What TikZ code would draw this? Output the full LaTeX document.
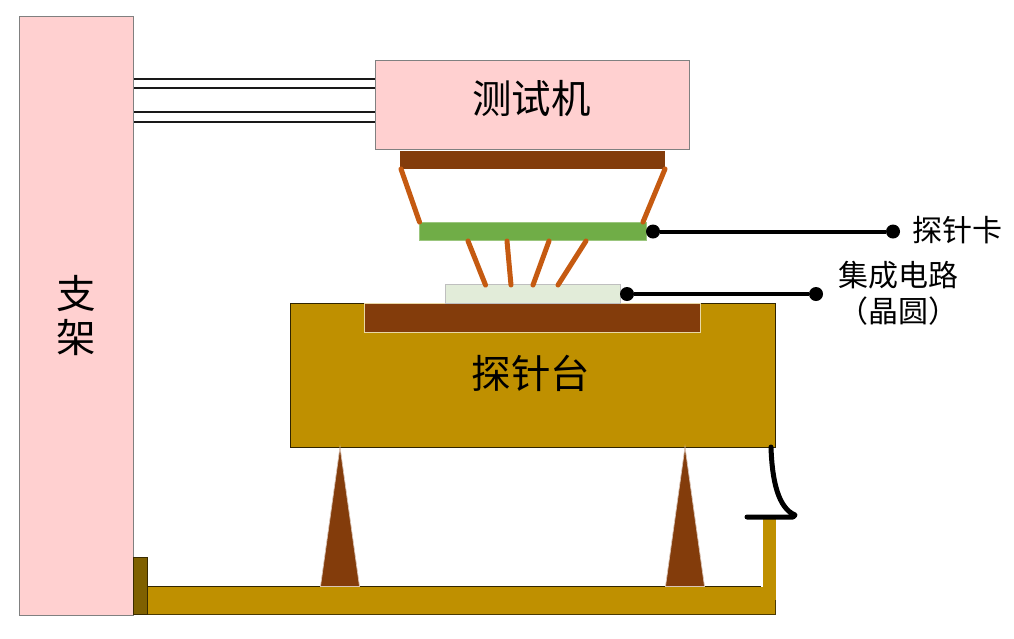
\documentclass[tikz,border=0pt]{standalone}
\usepackage{fontspec}
\setmainfont{Liberation Serif}
\newfontfamily\cjk{Noto Sans CJK SC}
\definecolor{pinkbox}{RGB}{255,208,208}
\definecolor{brownbar}{RGB}{131,60,11}
\definecolor{goldbase}{RGB}{191,144,0}
\definecolor{darkgold}{RGB}{127,96,0}
\definecolor{greencard}{RGB}{112,173,71}
\definecolor{palegreen}{RGB}{226,236,217}
\definecolor{probe}{RGB}{197,90,17}
\tikzset{
  x=1pt,y=-1pt,
  pinkbar/.style={fill=pinkbox,draw=black!50,line width=.8pt},
  rail/.style={fill=white,draw=black!90,line width=1.6pt},
  probeline/.style={draw=probe,line width=5pt,line cap=round},
  leader/.style={draw=black,line width=4pt},
  dotend/.style={circle,fill=black,inner sep=0pt,minimum size=14pt},
  lbl/.style={font=\cjk\fontsize{39.5}{41}\selectfont,inner sep=0pt,text=black},
  box/.style={inner sep=0pt,outer sep=0pt}
}
\begin{document}
\begin{tikzpicture}
\useasboundingbox (0,0) rectangle (1014,638);
\fill[white] (0,0) rectangle (1014,638);
% rails
\draw[rail] (133.5,79) rectangle (375.5,88);
\draw[rail] (133.5,112) rectangle (375.5,122);
% support
\draw[pinkbar] (19,16) rectangle (133.5,615);
\node[lbl,align=center] (zj) at (76,316) {支\\[3pt]架};
% tester
\draw[pinkbar] (375.5,60.5) rectangle (689,149);
\node[lbl] (csj) at (531.5,98.5) {测试机};
% probe card holder
\fill[brownbar] (400,150.5) rectangle (665,169);
\coordinate (hl) at (401,169);
\coordinate (hr) at (665,169);
% card
\node[box,fill=greencard,draw=greencard!70!white,line width=.7pt,minimum width=227pt,minimum height=18pt,anchor=north west] (card) at (419.5,222.5) {};
\coordinate (cl) at (419.5,222);
\coordinate (cr) at (643,222);
\draw[probeline] (hl) -- (cl);
\draw[probeline] (hr) -- (cr);
% probes
\coordinate (p1a) at (468,241); \coordinate (p1b) at (485.5,285);
\coordinate (p2a) at (507,241); \coordinate (p2b) at (511,285);
\coordinate (p3a) at (549,241); \coordinate (p3b) at (533,285);
\coordinate (p4a) at (586,241); \coordinate (p4b) at (558,285);
% stage
\node[box,fill=goldbase,draw=black!75!goldbase,line width=.8pt,minimum width=485pt,minimum height=143.5pt,anchor=north west] (stage) at (290,303.5) {};
\fill[brownbar,draw=white!65!goldbase,line width=.8pt] (364.5,303.5) rectangle (700,332);
\node[lbl] (tzt) at (531,373.5) {探针台};
% wafer
\node[box,fill=palegreen,draw=black!25,line width=.7pt,minimum width=175pt,minimum height=19pt,anchor=north west] (wafer) at (445,284) {};
\foreach \n in {1,2,3,4} \draw[probeline] (p\n a) -- (p\n b);
% base
\fill[goldbase] (763,517) rectangle (775.5,590);
\fill[goldbase] (147,587) rectangle (775.5,614.5);
\draw[black!75!goldbase,line width=1pt] (147,586.5) -- (320,586.5) (360,586.5) -- (665,586.5) (704,586.5) -- (761,586.5);
\draw[black!60!goldbase,line width=.7pt] (775.5,600) -- (775.5,614.5) -- (147,614.5);
\draw[black!70!goldbase,line width=.8pt,fill=darkgold] (133.5,557.5) rectangle (147,614.5);
% supports
\path[fill=brownbar,draw=white!70!brownbar,line width=.7pt] (340,447) -- (359.5,586.5) -- (320.5,586.5) -- cycle;
\path[fill=brownbar,draw=white!70!brownbar,line width=.7pt] (685,447) -- (704.5,586.5) -- (665.5,586.5) -- cycle;
% cable
\coordinate (ca) at (771,447);
\coordinate (cb) at (795,515);
\coordinate (cc) at (747,517);
\draw[black,line width=5pt,line cap=round,line join=round] (ca) .. controls (772,480) and (778,508) .. (795,515) -- (793,517) -- (cc);
% leaders
\node[dotend] (d1) at (653,231.5) {};
\node[dotend] (d2) at (893,231.5) {};
\draw[leader] (d1) -- (d2);
\node[dotend] (d3) at (627,294) {};
\node[dotend] (d4) at (816,294) {};
\draw[leader] (d3) -- (d4);
% labels
\node[font=\cjk\fontsize{30}{34}\selectfont,inner sep=0pt] (l1) at (957.5,230) {探针卡};
\node[font=\cjk\fontsize{30}{34}\selectfont,inner sep=0pt] (l2) at (898,275) {集成电路};
\node[font=\cjk\fontsize{30}{34}\selectfont,inner sep=0pt] (l3) at (898,311) {（晶圆）};
\end{tikzpicture}
\end{document}
